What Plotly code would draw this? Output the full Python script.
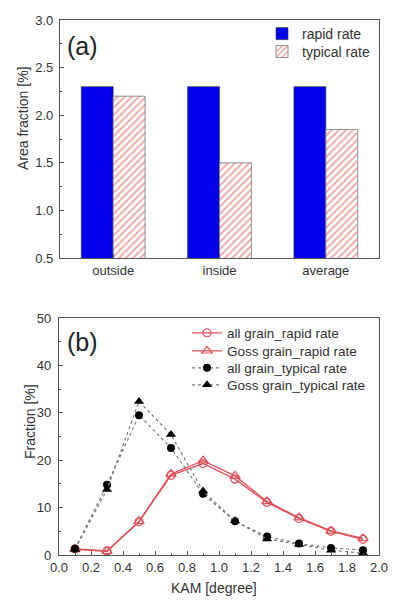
import plotly.graph_objects as go
from plotly.subplots import make_subplots

# ---- data (a) ----
categories = ["outside", "inside", "average"]
rapid_rate = [2.3, 2.3, 2.3]
typical_rate = [2.2, 1.5, 1.85]

# ---- data (b) ----
kam = [0.1, 0.3, 0.5, 0.7, 0.9, 1.1, 1.3, 1.5, 1.7, 1.9]
all_rapid = [1.3, 0.85, 7.0, 16.8, 19.3, 16.0, 11.1, 7.7, 5.0, 3.3]
goss_rapid = [1.2, 0.8, 7.1, 17.1, 19.9, 16.7, 11.3, 7.9, 5.1, 3.5]
all_typical = [1.3, 14.8, 29.5, 22.6, 12.9, 7.1, 3.9, 2.4, 1.5, 1.0]
goss_typical = [1.2, 13.8, 32.4, 25.4, 13.5, 7.2, 3.4, 2.2, 1.0, 0.4]

FONT = "Liberation Sans, Arial, sans-serif"
AX = "#555555"
TXT = "#333333"
W, H = 398, 604
OFF = 8  # page body offset


def px(x):
    return (x - OFF) / W


def py(y):
    return 1 - (y - OFF) / H


fig = make_subplots(rows=2, cols=1)

fig.add_trace(go.Bar(x=categories, y=rapid_rate, name="rapid rate",
                     marker=dict(color="#0000ee", line=dict(color="#333333", width=0.6)),
                     legend="legend"), row=1, col=1)
fig.add_trace(go.Bar(x=categories, y=typical_rate, name="typical rate",
                     marker=dict(color="white", line=dict(color="#777777", width=0.8),
                                 pattern=dict(shape="/", fgcolor="#e05050", bgcolor="white",
                                              size=5, solidity=0.4)),
                     legend="legend2"), row=1, col=1)

red = "#e0505a"
fig.add_trace(go.Scatter(x=kam, y=all_rapid, name="all grain_rapid rate", mode="lines+markers",
                         line=dict(color=red, width=1.3),
                         marker=dict(symbol="circle-open", size=8, color=red, line=dict(width=1.2)),
                         legend="legend3"), row=2, col=1)
fig.add_trace(go.Scatter(x=kam, y=goss_rapid, name="Goss grain_rapid rate", mode="lines+markers",
                         line=dict(color=red, width=1.3),
                         marker=dict(symbol="triangle-up-open", size=9, color=red, line=dict(width=1.2)),
                         legend="legend4"), row=2, col=1)
fig.add_trace(go.Scatter(x=kam, y=all_typical, name="all grain_typical rate", mode="lines+markers",
                         line=dict(color="#777777", width=1.2, dash="dot"),
                         marker=dict(symbol="circle", size=8, color="black"),
                         legend="legend5"), row=2, col=1)
fig.add_trace(go.Scatter(x=kam, y=goss_typical, name="Goss grain_typical rate", mode="lines+markers",
                         line=dict(color="#777777", width=1.2, dash="dot"),
                         marker=dict(symbol="triangle-up", size=9, color="black"),
                         legend="legend6"), row=2, col=1)

axis_common = dict(showline=True, linecolor=AX, linewidth=1.2, mirror=True, ticks="inside",
                   ticklen=4, tickcolor=AX, showgrid=False, zeroline=False, automargin=False,
                   tickfont=dict(family=FONT, size=13, color=TXT))


def leg(x, y, size):
    return dict(x=px(x), y=py(y), xanchor="left", yanchor="middle", bgcolor="rgba(0,0,0,0)",
                font=dict(family=FONT, size=size, color=TXT), itemwidth=30)


fig.update_layout(
    width=W, height=H, margin=dict(l=0, r=0, t=0, b=0, pad=0, autoexpand=False),
    paper_bgcolor="white", plot_bgcolor="white",
    font=dict(family=FONT, color=TXT),
    barmode="group", bargap=0.4, bargroupgap=0,
    xaxis=dict(domain=[px(60), px(379)], **axis_common),
    yaxis=dict(domain=[py(258), py(20)], range=[0.5, 3.0], dtick=0.5, tickformat=".1f",
               ticklabelstandoff=3,
               minor=dict(ticks="inside", ticklen=2, tickcolor=AX, dtick=0.25),
               **axis_common),
    xaxis2=dict(domain=[px(59), px(379)], range=[0, 2.0], dtick=0.2, tickformat=".1f",
                minor=dict(ticks="inside", ticklen=2, tickcolor=AX, dtick=0.1),
                **axis_common),
    yaxis2=dict(domain=[py(555), py(318)], range=[0, 50], dtick=10, ticklabelstandoff=4,
                minor=dict(ticks="inside", ticklen=2, tickcolor=AX, dtick=5),
                **axis_common),
    legend=leg(262, 34, 14),
    legend2=leg(262, 52, 14),
    legend3=leg(187, 333, 13.5),
    legend4=leg(187, 351, 13.5),
    legend5=leg(187, 368, 13.5),
    legend6=leg(187, 385, 13.5),
    showlegend=True,
)

ann_common = dict(xref="paper", yref="paper", xanchor="center", yanchor="middle", showarrow=False)

# axis titles
fig.add_annotation(text="Area fraction [%]", x=px(23), y=py(118), textangle=-90,
                   font=dict(family=FONT, size=14, color=TXT), **ann_common)
fig.add_annotation(text="Fraction [%]", x=px(30), y=py(422), textangle=-90,
                   font=dict(family=FONT, size=14, color=TXT), **ann_common)
fig.add_annotation(text="KAM [degree]", x=px(214), y=py(588),
                   font=dict(family=FONT, size=14, color=TXT), **ann_common)

fig.add_annotation(text="(a)", x=px(82), y=py(46),
                   font=dict(family=FONT, size=25, color="#222222"), **ann_common)
fig.add_annotation(text="(b)", x=px(82), y=py(342),
                   font=dict(family=FONT, size=25, color="#222222"), **ann_common)

fig.write_html("out.html")
